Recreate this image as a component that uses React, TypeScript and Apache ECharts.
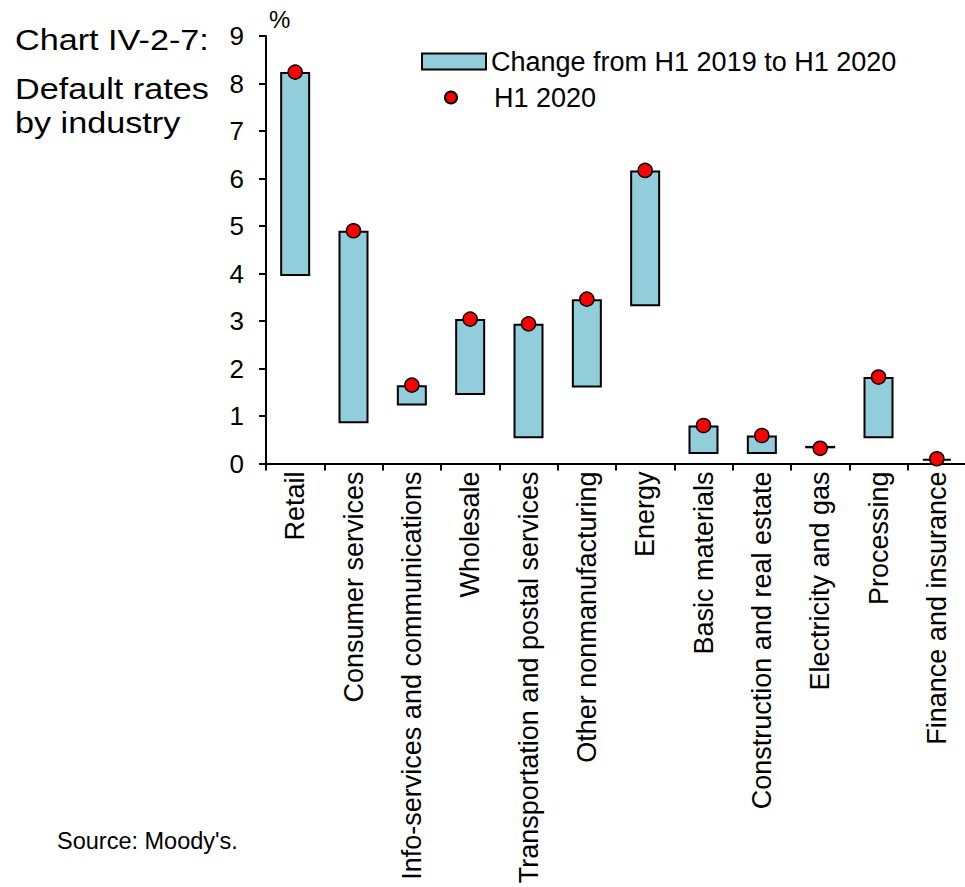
import React, { useEffect, useRef } from "react";
import * as echarts from "echarts";

const categories = [
  "Retail",
  "Consumer services",
  "Info-services and communications",
  "Wholesale",
  "Transportation and postal services",
  "Other nonmanufacturing",
  "Energy",
  "Basic materials",
  "Construction and real estate",
  "Electricity and gas",
  "Processing",
  "Finance and insurance",
];
const h1_2019 = [3.95, 0.85, 1.22, 1.44, 0.53, 1.6, 3.31, 0.2, 0.2, 0.37, 0.53, 0.06];
const h1_2020 = [8.24, 4.9, 1.65, 3.04, 2.94, 3.46, 6.17, 0.8, 0.59, 0.32, 1.82, 0.1];
const yTicks = [0, 1, 2, 3, 4, 5, 6, 7, 8, 9];

const FONT = "'Liberation Sans', Arial, sans-serif";

export default function App() {
  const ref = useRef<HTMLDivElement>(null);
  useEffect(() => {
    if (!ref.current) return;
    const chart = echarts.init(ref.current, undefined, { renderer: "svg" });
    const base = h1_2019.map((v, i) => Math.min(v, h1_2020[i]));
    const diff = h1_2019.map((v, i) => +Math.abs(h1_2020[i] - v).toFixed(3));
    const titleStyle = {
      fontSize: 30,
      fontFamily: FONT,
      fill: "#000",
      verticalAlign: "middle",
      align: "left",
    };
    chart.setOption({
      animation: false,
      textStyle: { fontFamily: FONT, color: "#000" },
      grid: {
        left: 266,
        right: -1,
        top: 36,
        bottom: 887 - 463.5,
        containLabel: false,
        outerBoundsMode: "none",
      },
      legend: [
        {
          data: [{ name: "Change from H1 2019 to H1 2020", icon: "rect" }],
          left: 421,
          top: 48,
          padding: 0,
          itemWidth: 64,
          itemHeight: 16,
          textStyle: { fontSize: 27, color: "#000", fontFamily: FONT, lineHeight: 26 },
          selectedMode: false,
        },
        {
          data: [{ name: "H1 2020", icon: "circle" }],
          left: 444,
          top: 84,
          padding: 0,
          itemWidth: 76,
          itemHeight: 12,
          textStyle: { fontSize: 27, color: "#000", fontFamily: FONT, lineHeight: 26 },
          selectedMode: false,
        },
      ],
      xAxis: {
        type: "category",
        data: categories,
        axisLine: { lineStyle: { color: "#000", width: 2 } },
        axisTick: { show: true, length: 7, lineStyle: { color: "#000", width: 2 } },
        axisLabel: {
          interval: 0,
          rotate: 90,
          fontSize: 27,
          color: "#000",
          fontFamily: FONT,
          margin: 8,
        },
        splitLine: { show: false },
      },
      yAxis: {
        type: "value",
        min: yTicks[0],
        max: yTicks[yTicks.length - 1],
        interval: 1,
        axisLine: { show: true, lineStyle: { color: "#000", width: 2 } },
        axisTick: { show: true, length: 7, lineStyle: { color: "#000", width: 2 } },
        axisLabel: { fontSize: 26, color: "#000", fontFamily: FONT, margin: 22 },
        splitLine: { show: false },
      },
      series: [
        {
          name: "base",
          type: "bar",
          stack: "range",
          data: base,
          barWidth: 30,
          itemStyle: { color: "transparent", borderWidth: 0 },
          silent: true,
          emphasis: { disabled: true },
        },
        {
          name: "Change from H1 2019 to H1 2020",
          type: "bar",
          stack: "range",
          data: diff,
          barWidth: 30,
          itemStyle: { color: "#92CDDC", borderColor: "#000", borderWidth: 2 },
          emphasis: { disabled: true },
        },
        {
          name: "H1 2020",
          type: "scatter",
          data: h1_2020,
          symbol: "circle",
          symbolSize: 14,
          itemStyle: { color: "#FF0000", borderColor: "#000", borderWidth: 1.5, opacity: 1 },
          z: 5,
          emphasis: { disabled: true },
        },
      ],
      graphic: [
        { type: "text", x: 15, y: 40, scaleX: 1.14, style: { ...titleStyle, text: "Chart IV-2-7:" } },
        { type: "text", x: 15, y: 89, scaleX: 1.14, style: { ...titleStyle, text: "Default rates" } },
        { type: "text", x: 15, y: 123, scaleX: 1.14, style: { ...titleStyle, text: "by industry" } },
        {
          type: "text",
          x: 269,
          y: 19,
          style: { text: "%", fontSize: 24, fontFamily: FONT, fill: "#000", verticalAlign: "middle", align: "left" },
        },
        {
          type: "text",
          x: 57,
          y: 841,
          style: { text: "Source: Moody's.", fontSize: 23.5, fontFamily: FONT, fill: "#000", verticalAlign: "middle", align: "left" },
        },
      ],
    });
    return () => chart.dispose();
  }, []);
  return (
    <div
      ref={ref}
      style={{ position: "absolute", left: 0, top: 0, width: 965, height: 887 }}
    />
  );
}
